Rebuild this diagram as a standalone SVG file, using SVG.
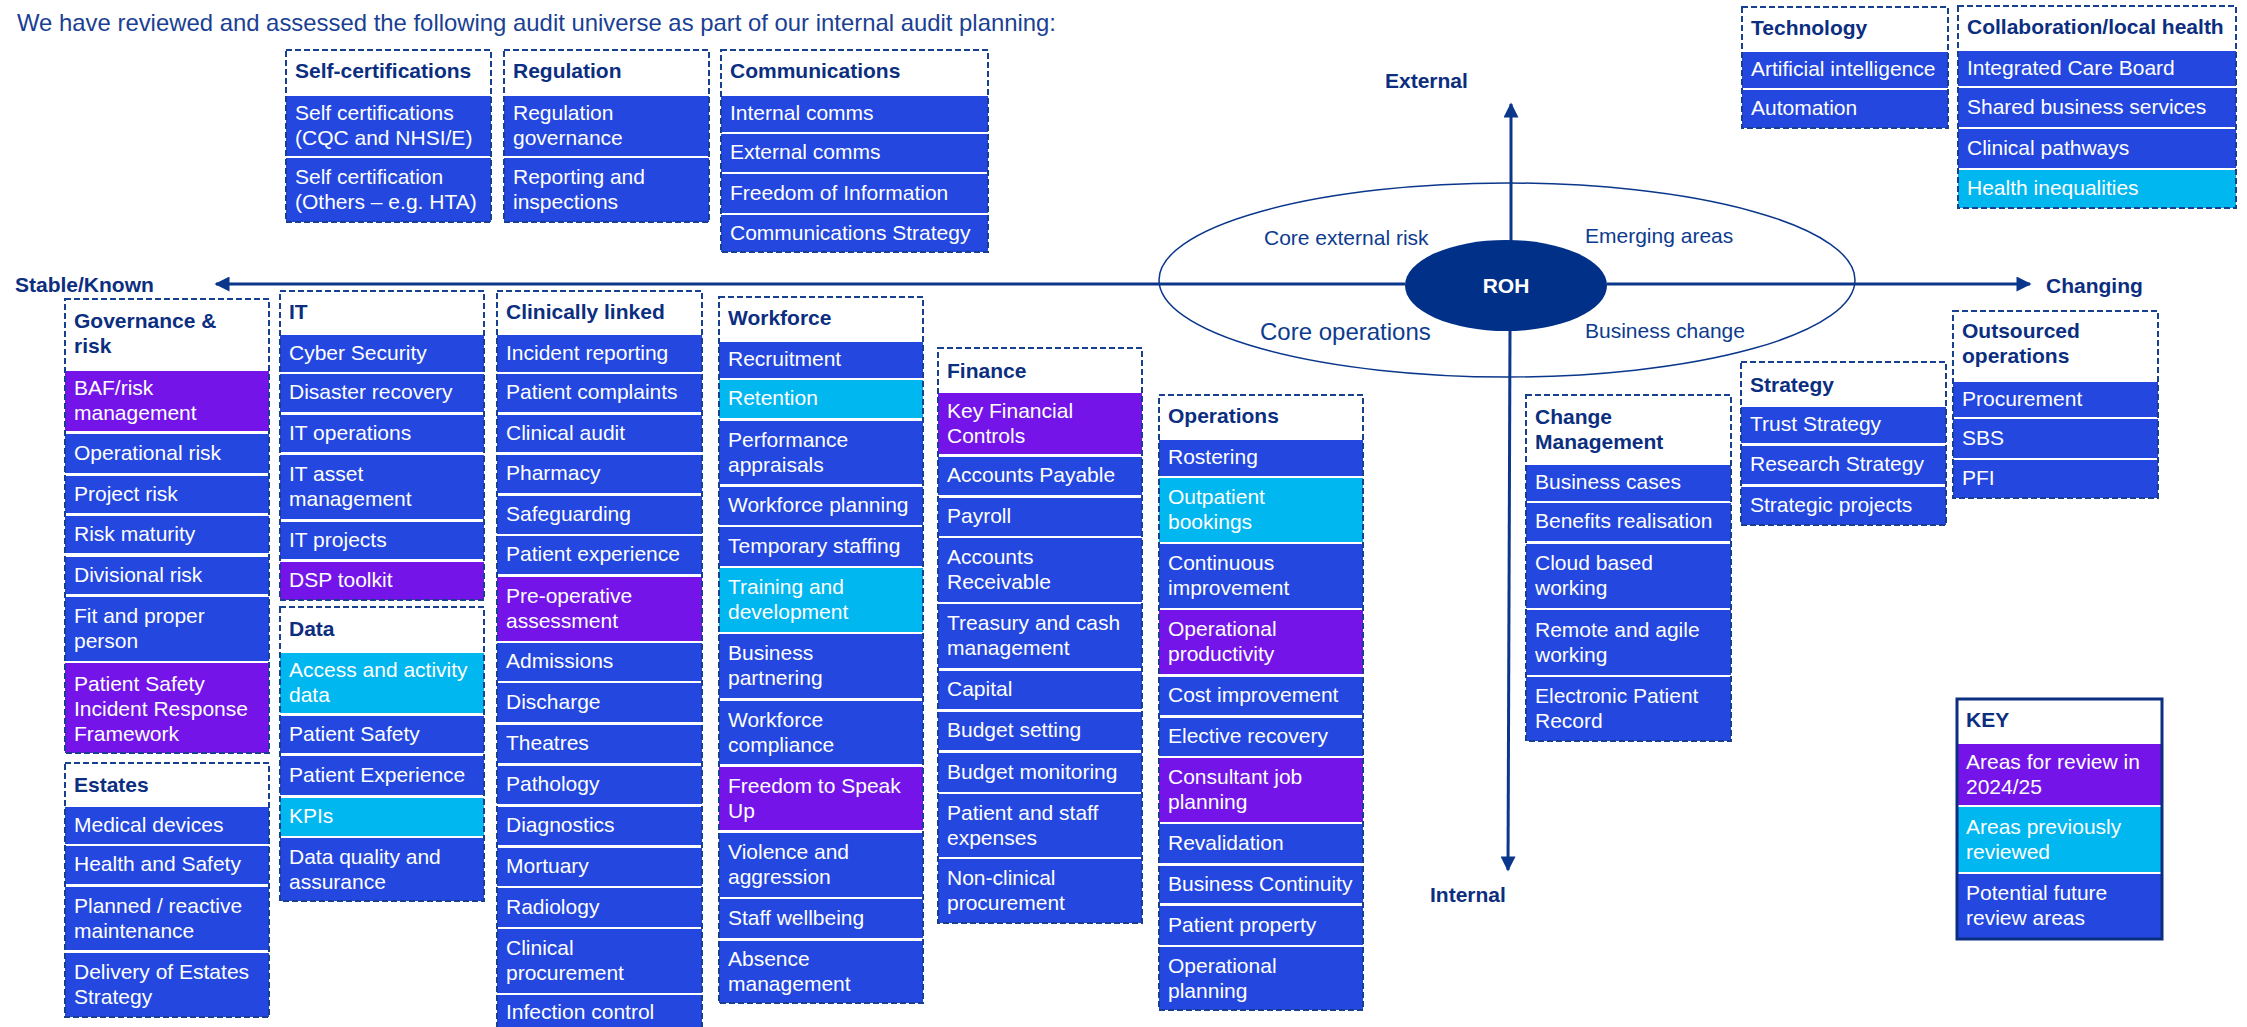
<svg xmlns="http://www.w3.org/2000/svg" width="2247" height="1027" viewBox="0 0 2247 1027">
<style>
text{font-family:"Liberation Sans",Arial,sans-serif;font-size:21px}
.hd{font-weight:bold;fill:#0b2e80}
.it{fill:#ffffff}
.lb{fill:#0d3b8e}
.ax{font-weight:bold;fill:#0b2e80}
.b{fill:#2347df}
.p{fill:#7414e8}
.c{fill:#00b7f0}
.hb{fill:#ffffff}
.box{fill:none;stroke:#17408f;stroke-width:2;stroke-dasharray:6 3}
.axl{stroke:#0a378c;stroke-width:3;fill:none}
</style>
<defs>
<marker id="ah" viewBox="0 0 10 10" refX="9" refY="5" markerWidth="6" markerHeight="5" markerUnits="strokeWidth" orient="auto">
<path d="M0,0 L10,5 L0,10 z" fill="#0a378c"/>
</marker>
</defs>
<rect width="2247" height="1027" fill="#ffffff"/>
<text x="17" y="31" textLength="1039" lengthAdjust="spacingAndGlyphs" style="fill:#1a3f93;font-size:24px">We have reviewed and assessed the following audit universe as part of our internal audit planning:</text>

<g id="connectors">
<ellipse cx="1507" cy="280" rx="348" ry="97" fill="none" stroke="#0a378c" stroke-width="1.5"/>
<line class="axl" x1="1405" y1="284" x2="216" y2="284" marker-end="url(#ah)"/>
<line class="axl" x1="1607" y1="284" x2="2030" y2="284" marker-end="url(#ah)"/>
<line class="axl" x1="1511" y1="241" x2="1511" y2="104" marker-end="url(#ah)"/>
<line class="axl" x1="1510" y1="330" x2="1508" y2="870" marker-end="url(#ah)"/>
</g>

<g id="roh">
<ellipse cx="1506" cy="285.5" rx="101" ry="45.5" fill="#003087"/>
<text x="1506" y="293" text-anchor="middle" style="font-weight:bold;fill:#ffffff">ROH</text>
</g>

<g id="axis-labels">
<text class="ax" x="1385" y="88">External</text>
<text class="ax" x="1430" y="902">Internal</text>
<text class="ax" x="15" y="292">Stable/Known</text>
<text class="ax" x="2046" y="293">Changing</text>
<text class="lb" x="1264" y="245">Core external risk</text>
<text class="lb" x="1585" y="243">Emerging areas</text>
<text class="lb" x="1260" y="340" style="font-size:24px">Core operations</text>
<text class="lb" x="1585" y="338">Business change</text>
</g>

<g id="self-certifications">
<rect class="hb" x="286" y="50" width="205" height="46"/>
<text class="hd" x="295" y="78">Self-certifications</text>
<rect class="b" x="286" y="96" width="205" height="60"/>
<text class="it" x="295" y="120">Self certifications<tspan x="295" dy="25">(CQC and NHSI/E)</tspan></text>
<rect class="b" x="286" y="158" width="205" height="64"/>
<text class="it" x="295" y="184">Self certification<tspan x="295" dy="25">(Others – e.g. HTA)</tspan></text>
<rect class="box" x="286" y="50" width="205" height="172"/>
</g>

<g id="regulation">
<rect class="hb" x="504" y="50" width="205" height="46"/>
<text class="hd" x="513" y="78">Regulation</text>
<rect class="b" x="504" y="96" width="205" height="60"/>
<text class="it" x="513" y="120">Regulation<tspan x="513" dy="25">governance</tspan></text>
<rect class="b" x="504" y="158" width="205" height="64"/>
<text class="it" x="513" y="184">Reporting and<tspan x="513" dy="25">inspections</tspan></text>
<rect class="box" x="504" y="50" width="205" height="172"/>
</g>

<g id="communications">
<rect class="hb" x="721" y="50" width="267" height="46"/>
<text class="hd" x="730" y="78">Communications</text>
<rect class="b" x="721" y="96" width="267" height="36"/>
<text class="it" x="730" y="120">Internal comms</text>
<rect class="b" x="721" y="134" width="267" height="38"/>
<text class="it" x="730" y="159">External comms</text>
<rect class="b" x="721" y="174" width="267" height="39"/>
<text class="it" x="730" y="199.5">Freedom of Information</text>
<rect class="b" x="721" y="215" width="267" height="37"/>
<text class="it" x="730" y="239.5">Communications Strategy</text>
<rect class="box" x="721" y="50" width="267" height="202"/>
</g>

<g id="technology">
<rect class="hb" x="1742" y="7" width="206" height="45"/>
<text class="hd" x="1751" y="35">Technology</text>
<rect class="b" x="1742" y="52" width="206" height="36"/>
<text class="it" x="1751" y="76">Artificial intelligence</text>
<rect class="b" x="1742" y="90" width="206" height="38"/>
<text class="it" x="1751" y="115">Automation</text>
<rect class="box" x="1742" y="7" width="206" height="121"/>
</g>

<g id="collaboration-local-health">
<rect class="hb" x="1958" y="6" width="278" height="45"/>
<text class="hd" x="1967" y="34">Collaboration/local health</text>
<rect class="b" x="1958" y="51" width="278" height="35"/>
<text class="it" x="1967" y="74.5">Integrated Care Board</text>
<rect class="b" x="1958" y="88" width="278" height="39"/>
<text class="it" x="1967" y="113.5">Shared business services</text>
<rect class="b" x="1958" y="129" width="278" height="39"/>
<text class="it" x="1967" y="154.5">Clinical pathways</text>
<rect class="c" x="1958" y="170" width="278" height="38"/>
<text class="it" x="1967" y="195">Health inequalities</text>
<rect class="box" x="1958" y="6" width="278" height="202"/>
</g>

<g id="governance-risk">
<rect class="hb" x="65" y="299" width="204" height="72"/>
<text class="hd" x="74" y="328">Governance &amp;<tspan x="74" dy="25">risk</tspan></text>
<rect class="p" x="65" y="371" width="204" height="60"/>
<text class="it" x="74" y="395">BAF/risk<tspan x="74" dy="25">management</tspan></text>
<rect class="b" x="65" y="434" width="204" height="39"/>
<text class="it" x="74" y="459.5">Operational risk</text>
<rect class="b" x="65" y="476" width="204" height="37"/>
<text class="it" x="74" y="500.5">Project risk</text>
<rect class="b" x="65" y="516" width="204" height="37"/>
<text class="it" x="74" y="540.5">Risk maturity</text>
<rect class="b" x="65" y="557" width="204" height="37"/>
<text class="it" x="74" y="581.5">Divisional risk</text>
<rect class="b" x="65" y="597" width="204" height="64"/>
<text class="it" x="74" y="623">Fit and proper<tspan x="74" dy="25">person</tspan></text>
<rect class="p" x="65" y="663" width="204" height="90"/>
<text class="it" x="74" y="691">Patient Safety<tspan x="74" dy="25">Incident Response</tspan><tspan x="74" dy="25">Framework</tspan></text>
<rect class="box" x="65" y="299" width="204" height="454"/>
</g>

<g id="estates">
<rect class="hb" x="65" y="763" width="204" height="44"/>
<text class="hd" x="74" y="792">Estates</text>
<rect class="b" x="65" y="807" width="204" height="37"/>
<text class="it" x="74" y="831.5">Medical devices</text>
<rect class="b" x="65" y="846" width="204" height="38"/>
<text class="it" x="74" y="871">Health and Safety</text>
<rect class="b" x="65" y="887" width="204" height="63"/>
<text class="it" x="74" y="912.5">Planned / reactive<tspan x="74" dy="25">maintenance</tspan></text>
<rect class="b" x="65" y="953" width="204" height="64"/>
<text class="it" x="74" y="979">Delivery of Estates<tspan x="74" dy="25">Strategy</tspan></text>
<rect class="box" x="65" y="763" width="204" height="254"/>
</g>

<g id="it">
<rect class="hb" x="280" y="291" width="204" height="44"/>
<text class="hd" x="289" y="319">IT</text>
<rect class="b" x="280" y="335" width="204" height="37"/>
<text class="it" x="289" y="359.5">Cyber Security</text>
<rect class="b" x="280" y="374" width="204" height="38"/>
<text class="it" x="289" y="399">Disaster recovery</text>
<rect class="b" x="280" y="415" width="204" height="37"/>
<text class="it" x="289" y="439.5">IT operations</text>
<rect class="b" x="280" y="455" width="204" height="64"/>
<text class="it" x="289" y="481">IT asset<tspan x="289" dy="25">management</tspan></text>
<rect class="b" x="280" y="522" width="204" height="37"/>
<text class="it" x="289" y="546.5">IT projects</text>
<rect class="p" x="280" y="562" width="204" height="38"/>
<text class="it" x="289" y="587">DSP toolkit</text>
<rect class="box" x="280" y="291" width="204" height="309"/>
</g>

<g id="data">
<rect class="hb" x="280" y="607" width="204" height="46"/>
<text class="hd" x="289" y="636">Data</text>
<rect class="c" x="280" y="653" width="204" height="60"/>
<text class="it" x="289" y="677">Access and activity<tspan x="289" dy="25">data</tspan></text>
<rect class="b" x="280" y="716" width="204" height="37"/>
<text class="it" x="289" y="740.5">Patient Safety</text>
<rect class="b" x="280" y="756" width="204" height="39"/>
<text class="it" x="289" y="781.5">Patient Experience</text>
<rect class="c" x="280" y="798" width="204" height="38"/>
<text class="it" x="289" y="823">KPIs</text>
<rect class="b" x="280" y="838" width="204" height="63"/>
<text class="it" x="289" y="863.5">Data quality and<tspan x="289" dy="25">assurance</tspan></text>
<rect class="box" x="280" y="607" width="204" height="294"/>
</g>

<g id="clinically-linked">
<rect class="hb" x="497" y="291" width="205" height="44"/>
<text class="hd" x="506" y="319">Clinically linked</text>
<rect class="b" x="497" y="335" width="205" height="37"/>
<text class="it" x="506" y="359.5">Incident reporting</text>
<rect class="b" x="497" y="374" width="205" height="38"/>
<text class="it" x="506" y="399">Patient complaints</text>
<rect class="b" x="497" y="415" width="205" height="37"/>
<text class="it" x="506" y="439.5">Clinical audit</text>
<rect class="b" x="497" y="455" width="205" height="38"/>
<text class="it" x="506" y="480">Pharmacy</text>
<rect class="b" x="497" y="496" width="205" height="38"/>
<text class="it" x="506" y="521">Safeguarding</text>
<rect class="b" x="497" y="536" width="205" height="38"/>
<text class="it" x="506" y="561">Patient experience</text>
<rect class="p" x="497" y="577" width="205" height="64"/>
<text class="it" x="506" y="603">Pre-operative<tspan x="506" dy="25">assessment</tspan></text>
<rect class="b" x="497" y="643" width="205" height="38"/>
<text class="it" x="506" y="668">Admissions</text>
<rect class="b" x="497" y="683" width="205" height="39"/>
<text class="it" x="506" y="708.5">Discharge</text>
<rect class="b" x="497" y="725" width="205" height="38"/>
<text class="it" x="506" y="750">Theatres</text>
<rect class="b" x="497" y="766" width="205" height="38"/>
<text class="it" x="506" y="791">Pathology</text>
<rect class="b" x="497" y="807" width="205" height="38"/>
<text class="it" x="506" y="832">Diagnostics</text>
<rect class="b" x="497" y="848" width="205" height="38"/>
<text class="it" x="506" y="873">Mortuary</text>
<rect class="b" x="497" y="888" width="205" height="39"/>
<text class="it" x="506" y="913.5">Radiology</text>
<rect class="b" x="497" y="929" width="205" height="64"/>
<text class="it" x="506" y="955">Clinical<tspan x="506" dy="25">procurement</tspan></text>
<rect class="b" x="497" y="995" width="205" height="40"/>
<text class="it" x="506" y="1019">Infection control</text>
<rect class="box" x="497" y="291" width="205" height="744"/>
</g>

<g id="workforce">
<rect class="hb" x="719" y="297" width="204" height="45"/>
<text class="hd" x="728" y="325">Workforce</text>
<rect class="b" x="719" y="342" width="204" height="36"/>
<text class="it" x="728" y="366">Recruitment</text>
<rect class="c" x="719" y="380" width="204" height="38"/>
<text class="it" x="728" y="405">Retention</text>
<rect class="b" x="719" y="421" width="204" height="63"/>
<text class="it" x="728" y="446.5">Performance<tspan x="728" dy="25">appraisals</tspan></text>
<rect class="b" x="719" y="487" width="204" height="38"/>
<text class="it" x="728" y="512">Workforce planning</text>
<rect class="b" x="719" y="527" width="204" height="39"/>
<text class="it" x="728" y="552.5">Temporary staffing</text>
<rect class="c" x="719" y="568" width="204" height="64"/>
<text class="it" x="728" y="594">Training and<tspan x="728" dy="25">development</tspan></text>
<rect class="b" x="719" y="634" width="204" height="64"/>
<text class="it" x="728" y="660">Business<tspan x="728" dy="25">partnering</tspan></text>
<rect class="b" x="719" y="701" width="204" height="63"/>
<text class="it" x="728" y="726.5">Workforce<tspan x="728" dy="25">compliance</tspan></text>
<rect class="p" x="719" y="767" width="204" height="63"/>
<text class="it" x="728" y="792.5">Freedom to Speak<tspan x="728" dy="25">Up</tspan></text>
<rect class="b" x="719" y="833" width="204" height="64"/>
<text class="it" x="728" y="859">Violence and<tspan x="728" dy="25">aggression</tspan></text>
<rect class="b" x="719" y="899" width="204" height="39"/>
<text class="it" x="728" y="924.5">Staff wellbeing</text>
<rect class="b" x="719" y="941" width="204" height="62"/>
<text class="it" x="728" y="966">Absence<tspan x="728" dy="25">management</tspan></text>
<rect class="box" x="719" y="297" width="204" height="706"/>
</g>

<g id="finance">
<rect class="hb" x="938" y="348" width="204" height="45"/>
<text class="hd" x="947" y="378">Finance</text>
<rect class="p" x="938" y="393" width="204" height="61"/>
<text class="it" x="947" y="417.5">Key Financial<tspan x="947" dy="25">Controls</tspan></text>
<rect class="b" x="938" y="457" width="204" height="38"/>
<text class="it" x="947" y="482">Accounts Payable</text>
<rect class="b" x="938" y="498" width="204" height="38"/>
<text class="it" x="947" y="523">Payroll</text>
<rect class="b" x="938" y="538" width="204" height="64"/>
<text class="it" x="947" y="564">Accounts<tspan x="947" dy="25">Receivable</tspan></text>
<rect class="b" x="938" y="604" width="204" height="64"/>
<text class="it" x="947" y="630">Treasury and cash<tspan x="947" dy="25">management</tspan></text>
<rect class="b" x="938" y="671" width="204" height="38"/>
<text class="it" x="947" y="696">Capital</text>
<rect class="b" x="938" y="712" width="204" height="38"/>
<text class="it" x="947" y="737">Budget setting</text>
<rect class="b" x="938" y="753" width="204" height="39"/>
<text class="it" x="947" y="778.5">Budget monitoring</text>
<rect class="b" x="938" y="794" width="204" height="63"/>
<text class="it" x="947" y="819.5">Patient and staff<tspan x="947" dy="25">expenses</tspan></text>
<rect class="b" x="938" y="859" width="204" height="64"/>
<text class="it" x="947" y="885">Non-clinical<tspan x="947" dy="25">procurement</tspan></text>
<rect class="box" x="938" y="348" width="204" height="575"/>
</g>

<g id="operations">
<rect class="hb" x="1159" y="395" width="204" height="45"/>
<text class="hd" x="1168" y="423">Operations</text>
<rect class="b" x="1159" y="440" width="204" height="36"/>
<text class="it" x="1168" y="464">Rostering</text>
<rect class="c" x="1159" y="478" width="204" height="64"/>
<text class="it" x="1168" y="504">Outpatient<tspan x="1168" dy="25">bookings</tspan></text>
<rect class="b" x="1159" y="544" width="204" height="64"/>
<text class="it" x="1168" y="570">Continuous<tspan x="1168" dy="25">improvement</tspan></text>
<rect class="p" x="1159" y="610" width="204" height="64"/>
<text class="it" x="1168" y="636">Operational<tspan x="1168" dy="25">productivity</tspan></text>
<rect class="b" x="1159" y="677" width="204" height="38"/>
<text class="it" x="1168" y="702">Cost improvement</text>
<rect class="b" x="1159" y="718" width="204" height="38"/>
<text class="it" x="1168" y="743">Elective recovery</text>
<rect class="p" x="1159" y="758" width="204" height="64"/>
<text class="it" x="1168" y="784">Consultant job<tspan x="1168" dy="25">planning</tspan></text>
<rect class="b" x="1159" y="824" width="204" height="39"/>
<text class="it" x="1168" y="849.5">Revalidation</text>
<rect class="b" x="1159" y="866" width="204" height="37"/>
<text class="it" x="1168" y="890.5">Business Continuity</text>
<rect class="b" x="1159" y="906" width="204" height="39"/>
<text class="it" x="1168" y="931.5">Patient property</text>
<rect class="b" x="1159" y="947" width="204" height="63"/>
<text class="it" x="1168" y="972.5">Operational<tspan x="1168" dy="25">planning</tspan></text>
<rect class="box" x="1159" y="395" width="204" height="615"/>
</g>

<g id="change-management">
<rect class="hb" x="1526" y="395" width="205" height="70"/>
<text class="hd" x="1535" y="424">Change<tspan x="1535" dy="25">Management</tspan></text>
<rect class="b" x="1526" y="465" width="205" height="36"/>
<text class="it" x="1535" y="489">Business cases</text>
<rect class="b" x="1526" y="503" width="205" height="38"/>
<text class="it" x="1535" y="528">Benefits realisation</text>
<rect class="b" x="1526" y="544" width="205" height="64"/>
<text class="it" x="1535" y="570">Cloud based<tspan x="1535" dy="25">working</tspan></text>
<rect class="b" x="1526" y="610" width="205" height="65"/>
<text class="it" x="1535" y="636.5">Remote and agile<tspan x="1535" dy="25">working</tspan></text>
<rect class="b" x="1526" y="677" width="205" height="64"/>
<text class="it" x="1535" y="703">Electronic Patient<tspan x="1535" dy="25">Record</tspan></text>
<rect class="box" x="1526" y="395" width="205" height="346"/>
</g>

<g id="strategy">
<rect class="hb" x="1741" y="362" width="205" height="45"/>
<text class="hd" x="1750" y="392">Strategy</text>
<rect class="b" x="1741" y="407" width="205" height="36"/>
<text class="it" x="1750" y="431">Trust Strategy</text>
<rect class="b" x="1741" y="446" width="205" height="38"/>
<text class="it" x="1750" y="471">Research Strategy</text>
<rect class="b" x="1741" y="487" width="205" height="38"/>
<text class="it" x="1750" y="512">Strategic projects</text>
<rect class="box" x="1741" y="362" width="205" height="163"/>
</g>

<g id="outsourced-operations">
<rect class="hb" x="1953" y="311" width="205" height="71"/>
<text class="hd" x="1962" y="338">Outsourced<tspan x="1962" dy="25">operations</tspan></text>
<rect class="b" x="1953" y="382" width="205" height="35"/>
<text class="it" x="1962" y="405.5">Procurement</text>
<rect class="b" x="1953" y="419" width="205" height="39"/>
<text class="it" x="1962" y="444.5">SBS</text>
<rect class="b" x="1953" y="460" width="205" height="38"/>
<text class="it" x="1962" y="485">PFI</text>
<rect class="box" x="1953" y="311" width="205" height="187"/>
</g>

<g id="key">
<rect class="hb" x="1957" y="699" width="205" height="45"/>
<text class="hd" x="1966" y="727">KEY</text>
<rect class="p" x="1957" y="744" width="205" height="61"/>
<text class="it" x="1966" y="768.5">Areas for review in<tspan x="1966" dy="25">2024/25</tspan></text>
<rect class="c" x="1957" y="807" width="205" height="65"/>
<text class="it" x="1966" y="833.5">Areas previously<tspan x="1966" dy="25">reviewed</tspan></text>
<rect class="b" x="1957" y="874" width="205" height="64"/>
<text class="it" x="1966" y="900">Potential future<tspan x="1966" dy="25">review areas</tspan></text>
<rect x="1957" y="699" width="205" height="240" fill="none" stroke="#0b2e80" stroke-width="3"/>
</g>
</svg>
